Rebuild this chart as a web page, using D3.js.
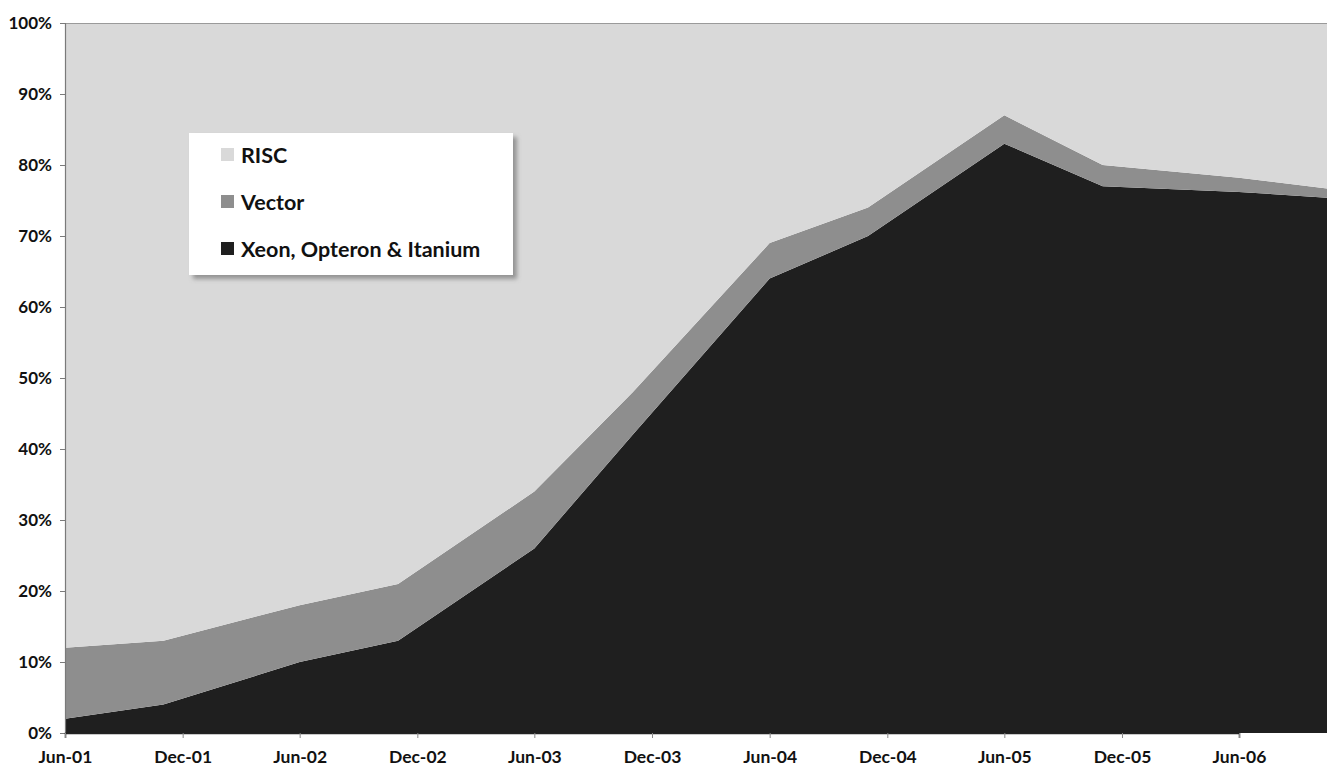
<!DOCTYPE html>
<html>
<head>
<meta charset="utf-8">
<script src="https://cdn.jsdelivr.net/npm/d3@7"></script>
<style>
  html, body { margin: 0; padding: 0; background: #ffffff; overflow: hidden; }
  svg { display: block; font-family: Lato, "Open Sans", "DejaVu Sans", sans-serif; font-weight: 700; }
</style>
</head>
<body>
<svg id="chart" width="1327" height="766"></svg>
<script>
// Survey dates (June and November lists)
const periods = ["Jun-01","Nov-01","Jun-02","Nov-02","Jun-03","Nov-03",
                 "Jun-04","Nov-04","Jun-05","Nov-05","Jun-06","Nov-06"];

// Share of systems by processor family, in percent
const xeonOpteronItanium = [2, 4, 10, 13, 26, 42, 64, 70, 83, 77, 76.2, 75.3];
const vector             = [10, 9, 8, 8, 8, 6, 5, 4, 4, 3, 2, 1.2];
const risc               = [88, 87, 82, 79, 66, 52, 31, 26, 13, 20, 21.8, 23.5];

// Axis labels
const xTickLabels = ["Jun-01","Dec-01","Jun-02","Dec-02","Jun-03","Dec-03",
                     "Jun-04","Dec-04","Jun-05","Dec-05","Jun-06"];
const yTickValues = [0, 10, 20, 30, 40, 50, 60, 70, 80, 90, 100];

const seriesNames = ["Xeon, Opteron & Itanium", "Vector", "RISC"];
const legendOrder = ["RISC", "Vector", "Xeon, Opteron & Itanium"];
const colors = {
  "RISC": "#d9d9d9",
  "Vector": "#8e8e8e",
  "Xeon, Opteron & Itanium": "#1f1f1f"
};

const parseMonth = d3.timeParse("%b-%y");
const rows = periods.map((p, i) => ({
  date: parseMonth(p),
  "Xeon, Opteron & Itanium": xeonOpteronItanium[i],
  "Vector": vector[i],
  "RISC": risc[i]
}));

const svg = d3.select("#chart");
const plotLeft = 65, plotTop = 23, plotBottom = 733, plotRight = 1327;

const x = d3.scaleTime()
  .domain([parseMonth("Jun-01"), parseMonth("Jun-06")])
  .range([plotLeft, 1239]);
const y = d3.scaleLinear().domain([0, 100]).range([plotBottom, plotTop]);

const stack = d3.stack().keys(seriesNames);
const layers = stack(rows);

const area = d3.area()
  .x(d => x(d.data.date))
  .y0(d => y(d[0]))
  .y1(d => y(d[1]));

const defs = svg.append("defs");
defs.append("clipPath").attr("id", "plotClip")
  .append("rect").attr("x", plotLeft).attr("y", plotTop)
  .attr("width", plotRight - plotLeft).attr("height", plotBottom - plotTop);

svg.append("g").attr("clip-path", "url(#plotClip)")
  .selectAll("path")
  .data(layers)
  .join("path")
  .attr("d", area)
  .attr("fill", d => colors[d.key]);

// Plot frame (top edge)
svg.append("line")
  .attr("x1", plotLeft).attr("x2", plotRight)
  .attr("y1", plotTop + 0.5).attr("y2", plotTop + 0.5)
  .attr("stroke", "#9a9a9a").attr("stroke-width", 1);

const labelFont = "Lato, 'Open Sans', sans-serif";

// Y axis
const yAxis = d3.axisLeft(y)
  .tickValues(yTickValues)
  .tickFormat(d => d + "%")
  .tickSize(5)
  .tickPadding(8);
const gy = svg.append("g").attr("transform", `translate(${plotLeft},0)`).call(yAxis);
gy.select(".domain").attr("stroke", "#7a7a7a").attr("stroke-width", 1.2);
gy.selectAll(".tick line").attr("stroke", "#7a7a7a");
gy.selectAll(".tick text")
  .attr("fill", "#111")
  .style("font-size", "17px")
  .style("font-weight", "700")
  .style("font-family", labelFont);

// X axis
const xAxis = d3.axisBottom(x)
  .tickValues(xTickLabels.map(parseMonth))
  .tickFormat(d3.timeFormat("%b-%y"))
  .tickSize(5)
  .tickPadding(13);
const gx = svg.append("g").attr("transform", `translate(0,${plotBottom})`).call(xAxis);
gx.select(".domain").attr("stroke", "#222").attr("stroke-width", 1.5);
gx.selectAll(".tick line").attr("stroke", "#888");
gx.selectAll(".tick text")
  .attr("fill", "#111")
  .style("font-size", "17.5px")
  .style("font-weight", "700")
  .style("font-family", labelFont);

// Legend box with soft shadow
const shadow = defs.append("filter").attr("id", "legendShadow")
  .attr("x", "-10%").attr("y", "-10%").attr("width", "130%").attr("height", "130%");
shadow.append("feDropShadow")
  .attr("dx", 4).attr("dy", 4).attr("stdDeviation", 2)
  .attr("flood-color", "#777").attr("flood-opacity", 0.7);

const legend = svg.append("g").attr("transform", "translate(189,133)");
legend.append("rect")
  .attr("width", 324).attr("height", 142)
  .attr("fill", "#ffffff")
  .attr("filter", "url(#legendShadow)");

const item = legend.selectAll("g.item")
  .data(legendOrder)
  .join("g")
  .attr("class", "item")
  .attr("transform", (d, i) => `translate(32,${30 + i * 47})`);
item.append("rect")
  .attr("x", 0).attr("y", -15)
  .attr("width", 13).attr("height", 13)
  .attr("fill", d => colors[d]);
item.append("text")
  .attr("x", 20).attr("y", 0)
  .attr("fill", "#111")
  .style("font-size", "21.5px")
  .style("font-weight", "700")
  .style("font-family", labelFont)
  .text(d => d);
</script>
</body>
</html>
